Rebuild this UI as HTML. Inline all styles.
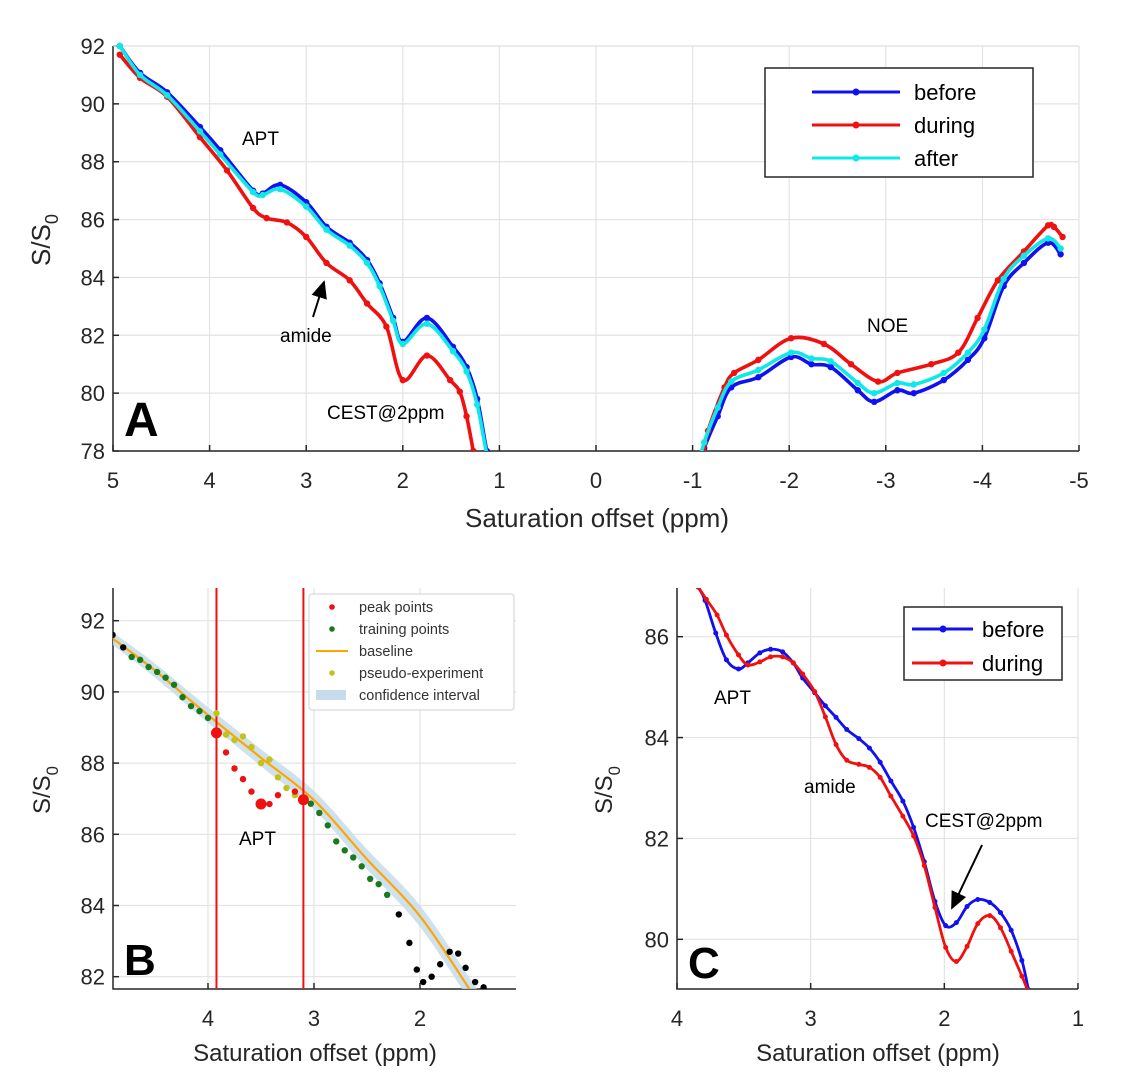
<!DOCTYPE html>
<html><head><meta charset="utf-8">
<style>
body{margin:0;background:#fff;}
svg{display:block;font-family:"Liberation Sans",Arial,sans-serif;}
.tk{fill:#262626;font-size:22px;}
.ann{font-family:"Liberation Sans",sans-serif;fill:#000;}
</style></head>
<body>
<svg id="fig" width="1147" height="1082" viewBox="0 0 1147 1082" xmlns="http://www.w3.org/2000/svg">
<defs>
<clipPath id="clipA"><rect x="113" y="40" width="967" height="411"/></clipPath>
<clipPath id="clipB"><rect x="113" y="588" width="403" height="401"/></clipPath>
<clipPath id="clipC"><rect x="677" y="588" width="402" height="401"/></clipPath>
<marker id="arr" markerWidth="10" markerHeight="10" refX="8" refY="5" orient="auto"><path d="M0,1 L9,5 L0,9 z" fill="#000"/></marker>
</defs>
<g id="panelA"></g>
<g id="panelB"></g>
<g id="panelC"></g>
</svg>
<script>
// ---------- Panel A data ----------
const aBeforeX=[4.93,4.72,4.44,4.1,3.89,3.55,3.45,3.27,3.0,2.79,2.55,2.37,2.24,2.1,2.0,1.75,1.48,1.34,1.23,1.13,1.05];
const aBeforeY=[92,91.07,90.4,89.2,88.4,87.0,86.9,87.2,86.6,85.75,85.2,84.6,83.8,82.6,81.77,82.6,81.6,80.9,79.8,78.0,77.0];
const aAfterX=[4.93,4.72,4.44,4.1,3.89,3.55,3.45,3.27,3.0,2.79,2.55,2.37,2.24,2.1,2.0,1.75,1.48,1.34,1.23,1.13,1.05];
const aAfterY=[92,91.0,90.3,89.05,88.25,86.95,86.85,87.05,86.45,85.65,85.1,84.5,83.7,82.5,81.7,82.4,81.45,80.75,79.6,77.9,77.0];
const aDuringX=[4.93,4.72,4.44,4.1,3.82,3.55,3.41,3.2,3.0,2.79,2.55,2.37,2.17,2.0,1.75,1.51,1.41,1.34,1.27,1.2];
const aDuringY=[91.7,90.9,90.25,88.85,87.7,86.4,86.05,85.9,85.4,84.5,83.9,83.1,82.3,80.45,81.3,80.45,80.05,79.2,78.0,76.8];
const aBeforeNX=[-1.05,-1.12,-1.26,-1.4,-1.68,-2.02,-2.23,-2.43,-2.71,-2.88,-3.12,-3.29,-3.6,-3.85,-4.02,-4.22,-4.43,-4.68,-4.81];
const aBeforeNY=[77.2,78.1,79.2,80.2,80.55,81.25,81.0,80.9,80.1,79.7,80.1,80.0,80.45,81.15,81.9,83.7,84.5,85.2,84.8];
const aAfterNX=[-1.05,-1.12,-1.26,-1.4,-1.68,-2.02,-2.23,-2.43,-2.71,-2.88,-3.12,-3.29,-3.6,-3.85,-4.02,-4.22,-4.43,-4.68,-4.81];
const aAfterNY=[77.4,78.3,79.5,80.4,80.8,81.4,81.2,81.1,80.35,80.0,80.35,80.3,80.7,81.4,82.2,83.95,84.75,85.35,85.0];
const aDuringNX=[-1.1,-1.16,-1.33,-1.43,-1.68,-2.02,-2.36,-2.64,-2.92,-3.12,-3.47,-3.75,-3.95,-4.16,-4.43,-4.68,-4.74,-4.83];
const aDuringNY=[77.6,78.7,80.2,80.7,81.15,81.9,81.7,81.0,80.4,80.7,81.0,81.4,82.6,83.9,84.9,85.8,85.75,85.4];
const aYTicks=[92,90,88,86,84,82,80,78];
const aXTicks=[5,4,3,2,1,0,-1,-2,-3,-4,-5];

// ---------- Panel B data ----------
const bBaseX=[4.9,4.5,4.0,3.5,3.0,2.5,2.0,1.5,1.3];
const bBaseY=[91.5,90.6,89.35,88.15,86.96,85.3,83.7,81.5,80.6];
const bTrainX=[4.72,4.64,4.56,4.48,4.4,4.32,4.24,4.16,4.08,4.0,3.03,2.95,2.87,2.79,2.71,2.63,2.55,2.47,2.39,2.31];
const bTrainY=[90.98,90.9,90.7,90.56,90.4,90.2,89.85,89.6,89.46,89.27,86.86,86.6,86.25,85.8,85.55,85.35,85.1,84.75,84.6,84.3];
const bPeakX=[3.83,3.75,3.67,3.59,3.42,3.34,3.18];
const bPeakY=[88.3,87.85,87.55,87.2,86.85,87.1,87.2];
const bBigPeakX=[3.92,3.5,3.1];
const bBigPeakY=[88.85,86.85,86.97];
const bPseudoX=[3.92,3.83,3.75,3.67,3.59,3.5,3.42,3.34,3.26,3.18,3.1];
const bPseudoY=[89.4,88.8,88.65,88.75,88.45,88.0,88.1,87.6,87.3,87.1,87.0];
const bBlackX=[4.9,4.8,2.2,2.1,2.03,1.97,1.89,1.81,1.72,1.64,1.57,1.48,1.4];
const bBlackY=[91.6,91.25,83.75,82.95,82.2,81.85,82.0,82.35,82.7,82.65,82.25,81.85,81.7];
const bVLines=[3.92,3.1];
const bYTicks=[92,90,88,86,84,82];
const bXTicks=[4,3,2];

// ---------- Panel C data ----------
const cBeforeX=[3.84,3.79,3.71,3.63,3.54,3.47,3.38,3.3,3.21,3.13,3.06,2.97,2.89,2.81,2.73,2.64,2.56,2.48,2.4,2.31,2.23,2.15,2.07,1.99,1.91,1.83,1.75,1.66,1.58,1.5,1.42,1.37,1.3];
const cBeforeY=[86.98,86.72,86.07,85.54,85.36,85.48,85.68,85.75,85.7,85.48,85.18,84.89,84.63,84.4,84.16,83.98,83.79,83.51,83.14,82.74,82.22,81.54,80.75,80.27,80.33,80.65,80.79,80.73,80.53,80.18,79.58,79.0,78.2];
const cDuringX=[3.84,3.78,3.7,3.63,3.54,3.47,3.38,3.3,3.21,3.13,3.06,2.97,2.89,2.81,2.73,2.64,2.56,2.48,2.4,2.31,2.23,2.15,2.07,1.99,1.91,1.83,1.75,1.66,1.58,1.5,1.42,1.38,1.3];
const cDuringY=[86.98,86.74,86.43,86.03,85.64,85.44,85.5,85.6,85.6,85.48,85.26,84.91,84.41,83.86,83.55,83.47,83.41,83.21,82.84,82.44,82.05,81.46,80.63,79.84,79.56,79.86,80.31,80.47,80.23,79.76,79.27,79.0,78.3];
const cYTicks=[86,84,82,80];
const cXTicks=[4,3,2,1];

const NS="http://www.w3.org/2000/svg";
function mk(parent,tag,attrs,text){const e=document.createElementNS(NS,tag);for(const k in attrs)e.setAttribute(k,attrs[k]);if(text!==undefined)e.textContent=text;parent.appendChild(e);return e;}
function axis(x0,x1,px0,px1){return v=>px0+(v-x0)*(px1-px0)/(x1-x0);}
// smooth path through pixel points (Catmull-Rom)
function smooth(P){
  let d='M'+P[0][0].toFixed(1)+','+P[0][1].toFixed(1);
  for(let i=0;i<P.length-1;i++){
    const p0=P[i-1]||P[i],p1=P[i],p2=P[i+1],p3=P[i+2]||P[i+1];
    const c1=[p1[0]+(p2[0]-p0[0])/6,p1[1]+(p2[1]-p0[1])/6];
    const c2=[p2[0]-(p3[0]-p1[0])/6,p2[1]-(p3[1]-p1[1])/6];
    d+=` C${c1[0].toFixed(1)},${c1[1].toFixed(1)} ${c2[0].toFixed(1)},${c2[1].toFixed(1)} ${p2[0].toFixed(1)},${p2[1].toFixed(1)}`;
  }
  return d;
}

function frame(g,o){
  o.yt.forEach(v=>{const gl=mk(g,'line',{x1:o.L,x2:o.R,y1:o.sy(v),y2:o.sy(v),stroke:'#e3e3e3','stroke-width':1.2});
    
    });
  o.xt.forEach(v=>{const gl=mk(g,'line',{x1:o.sx(v),x2:o.sx(v),y1:o.T,y2:o.B,stroke:'#e3e3e3','stroke-width':1.2});
    
    });
  const ax=mk(g,'path',{d:`M${o.L},${o.T} L${o.L},${o.B} L${o.R},${o.B}`,fill:'none',stroke:'#262626','stroke-width':1.5});
  
  
  o.yt.forEach(v=>{const y=o.sy(v);mk(g,'line',{x1:o.L,x2:o.L+6,y1:y,y2:y,stroke:'#262626','stroke-width':1.5});
    const t=mk(g,'text',{x:o.L-8,y:y+8,'text-anchor':'end',class:'tk','font-size':o.fs},String(v));
    
    });
  o.xt.forEach(v=>{const x=o.sx(v);mk(g,'line',{x1:x,x2:x,y1:o.B,y2:o.B-6,stroke:'#262626','stroke-width':1.5});
    const t=mk(g,'text',{x:x,y:o.B+37,'text-anchor':'middle',class:'tk','font-size':o.fs},String(v));
    
    });
  const xt=mk(g,'text',{x:o.xtX,y:o.xtY,'text-anchor':'middle',fill:'#262626','font-size':o.tfs},'Saturation offset (ppm)');
  
  
  const yt=mk(g,'text',{transform:`translate(${o.ytX},${o.ytY}) rotate(-90)`,'text-anchor':'middle',fill:'#262626','font-size':o.tfs});
  
  
  mk(yt,'tspan',{},'S/S');mk(yt,'tspan',{dy:8,'font-size':o.tfs*0.7},'0');
}

function series(g,xs,ys,sx,sy,color,name,clip,r,w){
  const sg=mk(g,'g',{'clip-path':`url(#${clip})`});
  
  
  const P=xs.map((x,i)=>[sx(x),sy(ys[i])]);
  mk(sg,'path',{d:smooth(P),fill:'none',stroke:color,'stroke-width':w,'stroke-linejoin':'round'});
  P.forEach(p=>{mk(sg,'circle',{cx:p[0],cy:p[1],r:r,fill:color});});
}
function label(g,x,y,txt,size,name,extra){
  const t=mk(g,'text',Object.assign({x:x,y:y,'font-size':size,class:'ann'},extra||{}),txt);
  
  
  return t;
}
function arrow(g,x1,y1,x2,y2,name){
  const a=mk(g,'line',{x1:x1,y1:y1,x2:x2,y2:y2,stroke:'#000','stroke-width':2,'marker-end':'url(#arr)'});
  
  
}

// ---------- Panel A ----------
(function(){
  const g=document.getElementById('panelA');
  const sx=axis(5,-5,113,1079), sy=axis(92,78,46,451);
  frame(g,{L:113,R:1079,T:46,B:451,sx,sy,yt:aYTicks,xt:aXTicks,fs:22,tfs:26,xtX:597,xtY:527,ytX:50,ytY:240});
  mk(g,'line',{x1:113,x2:1079,y1:46,y2:46,stroke:'#e3e3e3','stroke-width':1.2});
  series(g,aBeforeX,aBeforeY,sx,sy,'#1010f0','before-series-apt','clipA',3.2,3.6);
  series(g,aBeforeNX,aBeforeNY,sx,sy,'#1010f0','before-series-noe','clipA',3.2,3.6);
  series(g,aDuringX,aDuringY,sx,sy,'#f01010','during-series-apt','clipA',3.2,3.6);
  series(g,aDuringNX,aDuringNY,sx,sy,'#f01010','during-series-noe','clipA',3.2,3.6);
  series(g,aAfterX,aAfterY,sx,sy,'#10e8e8','after-series-apt','clipA',3.2,3.6);
  series(g,aAfterNX,aAfterNY,sx,sy,'#10e8e8','after-series-noe','clipA',3.2,3.6);
  label(g,242,145,'APT',19,'apt-label');
  label(g,280,342,'amide',19,'amide-label');
  arrow(g,313,317,324,282,'amide-arrow');
  label(g,327,419,'CEST@2ppm',19,'cest-label');
  label(g,867,332,'NOE',19,'noe-label');
  label(g,124,436,'A',48,'panel-a-letter',{'font-weight':'bold'});
  const lg=mk(g,'g',{});
  
  
  mk(lg,'rect',{x:765,y:68,width:268,height:109,fill:'#fff',stroke:'#262626','stroke-width':1.5});
  [['before','#1010f0',92],['during','#f01010',125],['after','#10e8e8',158]].forEach(e=>{
    const eg=mk(lg,'g',{});
    
    
    mk(eg,'line',{x1:812,x2:900,y1:e[2],y2:e[2],stroke:e[1],'stroke-width':3});
    mk(eg,'circle',{cx:856,cy:e[2],r:3.5,fill:e[1]});
    mk(eg,'text',{x:914,y:e[2]+8,'font-size':22,fill:'#000'},e[0]);
  });
})();

// ---------- Panel B ----------
(function(){
  const g=document.getElementById('panelB');
  const sx=axis(4,2,208,420), sy=axis(92,82,620.7,976.7);
  frame(g,{L:113,R:516,T:588,B:989,sx,sy,yt:bYTicks,xt:bXTicks,fs:22,tfs:24,xtX:315,xtY:1061,ytX:50,ytY:790});
  const cl=mk(g,'g',{'clip-path':'url(#clipB)'});
  
  
  const up=bBaseX.map((x,i)=>[sx(x),sy(bBaseY[i]+0.18+0.15*(4.9-x)/3.6)]);
  const dn=bBaseX.map((x,i)=>[sx(x),sy(bBaseY[i]-0.18-0.15*(4.9-x)/3.6)]).reverse();
  const band=mk(cl,'path',{d:smooth(up)+' L'+smooth(dn).slice(1)+' Z',fill:'#c6dcec',opacity:0.85});
  
  
  const bl=mk(cl,'path',{d:smooth(bBaseX.map((x,i)=>[sx(x),sy(bBaseY[i])])),fill:'none',stroke:'#ffa500','stroke-width':2.2});
  
  
  bVLines.forEach(v=>{const l=mk(cl,'line',{x1:sx(v),x2:sx(v),y1:588,y2:989,stroke:'#f01010','stroke-width':2});
    
    });
  const pts=(xs,ys,c,r,n)=>xs.forEach((x,i)=>{const p=mk(cl,'circle',{cx:sx(x),cy:sy(ys[i]),r:r,fill:c});
    
    });
  pts(bTrainX,bTrainY,'#1a7a1a',3.2,'training-point');
  pts(bBlackX,bBlackY,'#000',3.2,'data-point');
  pts(bPseudoX,bPseudoY,'#c2c21a',3.2,'pseudo-experiment-point');
  pts(bPeakX,bPeakY,'#f01010',3.2,'peak-point');
  pts(bBigPeakX,bBigPeakY,'#f01010',5.5,'peak-point-major');
  label(g,239,845,'APT',19,'apt-label-b');
  label(g,124,975,'B',44,'panel-b-letter',{'font-weight':'bold'});
  const lg=mk(g,'g',{});
  
  
  mk(lg,'rect',{x:309,y:594,width:205,height:116,rx:3,fill:'#fff',stroke:'#d0d0d0','stroke-width':1});
  const ent=[['peak points','#f01010','dot',607],['training points','#1a7a1a','dot',629],['baseline','#ffa500','line',651],['pseudo-experiment','#c2c21a','dot',673],['confidence interval','#c6dcec','rect',695]];
  ent.forEach(e=>{
    const eg=mk(lg,'g',{});
    
    
    if(e[2]==='dot')mk(eg,'circle',{cx:332,cy:e[3],r:2.8,fill:e[1]});
    else if(e[2]==='line')mk(eg,'line',{x1:316,x2:348,y1:e[3],y2:e[3],stroke:e[1],'stroke-width':2});
    else mk(eg,'rect',{x:316,y:e[3]-5,width:30,height:10,fill:e[1]});
    mk(eg,'text',{x:359,y:e[3]+5,'font-size':14.5,fill:'#333'},e[0]);
  });
})();

// ---------- Panel C ----------
(function(){
  const g=document.getElementById('panelC');
  const sx=axis(4,1,677,1078), sy=axis(86,80,636.7,939.3);
  frame(g,{L:677,R:1078,T:588,B:989,sx,sy,yt:cYTicks,xt:cXTicks,fs:22,tfs:24,xtX:878,xtY:1061,ytX:612,ytY:790});
  series(g,cBeforeX,cBeforeY,sx,sy,'#1010f0','before-series-c','clipC',2.5,2.8);
  series(g,cDuringX,cDuringY,sx,sy,'#f01010','during-series-c','clipC',2.5,2.8);
  label(g,714,704,'APT',19,'apt-label-c');
  label(g,804,793,'amide',19,'amide-label-c');
  label(g,925,827,'CEST@2ppm',19,'cest-label-c');
  arrow(g,982,845,952,908,'cest-arrow-c');
  label(g,688,978,'C',44,'panel-c-letter',{'font-weight':'bold'});
  const lg=mk(g,'g',{});
  
  
  mk(lg,'rect',{x:904,y:607,width:158,height:73,fill:'#fff',stroke:'#262626','stroke-width':1.5});
  [['before','#1010f0',629],['during','#f01010',663]].forEach(e=>{
    const eg=mk(lg,'g',{});
    
    
    mk(eg,'line',{x1:912,x2:973,y1:e[2],y2:e[2],stroke:e[1],'stroke-width':3});
    mk(eg,'circle',{cx:943,cy:e[2],r:3.5,fill:e[1]});
    mk(eg,'text',{x:982,y:e[2]+8,'font-size':22,fill:'#000'},e[0]);
  });
})();
</script>
</body></html>
